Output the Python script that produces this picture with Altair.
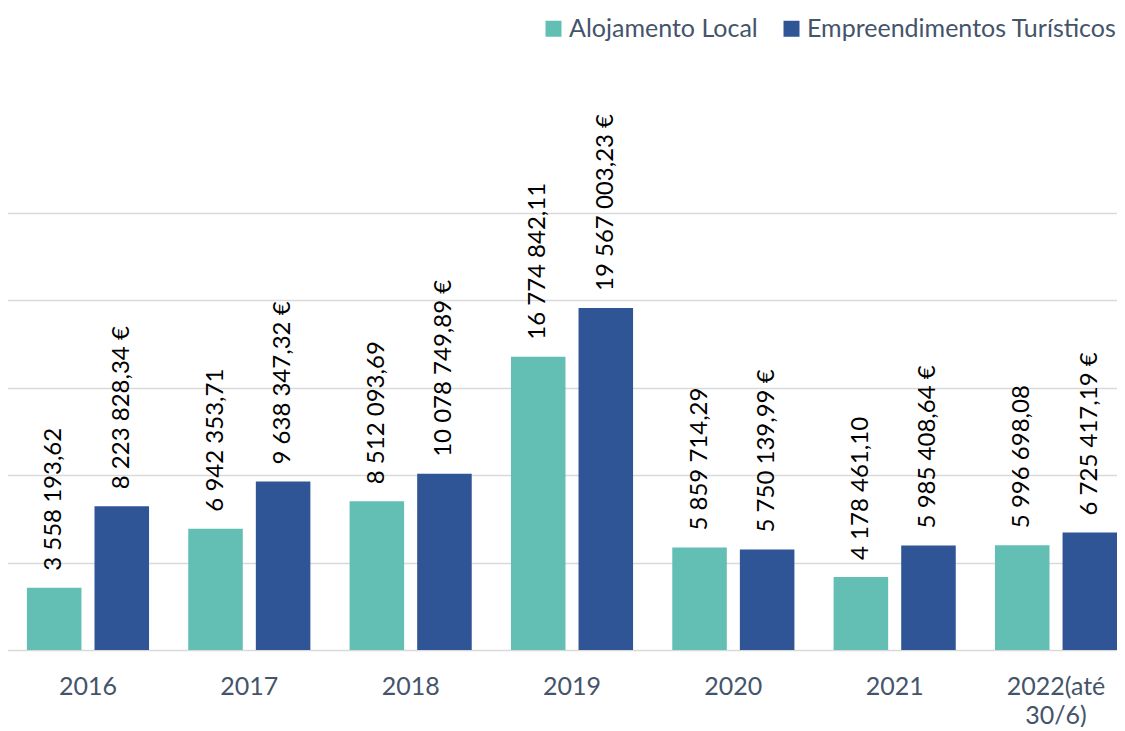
import altair as alt
import pandas as pd

years = ["2016", "2017", "2018", "2019", "2020", "2021", "2022(até 30/6)"]
series = ["Alojamento Local", "Empreendimentos Turísticos"]
alojamento = [3558193.62, 6942353.71, 8512093.69, 16774842.11, 5859714.29, 4178461.10, 5996698.08]
empreend = [8223828.34, 9638347.32, 10078749.89, 19567003.23, 5750139.99, 5985408.64, 6725417.19]
colors = ["#63BFB4", "#2F5597"]


def fmt(v, euro):
    s = f"{v:,.2f}".replace(",", " ").replace(".", ",")
    return s + (" €" if euro else "")


rows = []
for i, y in enumerate(years):
    rows.append({"year": y, "serie": series[0], "value": alojamento[i], "label": fmt(alojamento[i], False)})
    rows.append({"year": y, "serie": series[1], "value": empreend[i], "label": fmt(empreend[i], True)})
df = pd.DataFrame(rows)

FONT = "Lato"
W, H = 1109, 437

x = alt.X("year:N", sort=years, title=None,
          scale=alt.Scale(range=[-0.7, 1128.7], paddingInner=0, paddingOuter=0),
          axis=alt.Axis(labelAngle=0, labelFontSize=25, labelFont=FONT, labelColor="#44546A",
                        ticks=False, domain=False, labelPadding=24, labelLineHeight=29,
                        labelBaseline="top",
                        labelExpr="split(datum.label, ' ')"))
xoff = alt.XOffset("serie:N", sort=series,
                   scale=alt.Scale(paddingInner=0.193, paddingOuter=0.29))
y = alt.Y("value:Q", title=None,
          scale=alt.Scale(domain=[0, 25000000], nice=False),
          axis=alt.Axis(values=[0, 5000000, 10000000, 15000000, 20000000, 25000000],
                        labels=False, ticks=False, domain=False, grid=True,
                        gridColor="#D9D9D9", gridWidth=1.5))
color = alt.Color("serie:N", sort=series, title=None,
                  scale=alt.Scale(domain=series, range=colors),
                  legend=alt.Legend(orient="none", legendX=533, legendY=-197, direction="horizontal",
                                    symbolType="square", symbolSize=256, symbolStrokeWidth=0,
                                    labelFontSize=25, labelFont=FONT, labelColor="#44546A",
                                    labelLimit=0, columnPadding=21, labelOffset=3))

base = alt.Chart(df)
bars = base.mark_bar().encode(x=x, xOffset=xoff, y=y, color=color)
labels = base.mark_text(angle=270, align="left", baseline="middle", dx=17,
                        fontSize=24, font=FONT, color="black").encode(
    x=x, xOffset=xoff, y=y, text="label:N")

chart = alt.layer(bars, labels).properties(
    width=W, height=H,
    autosize=alt.AutoSizeParams(type="none"),
    padding={"left": 0, "top": 205, "right": 0, "bottom": 77},
).configure_view(stroke=None)

chart.save("out.html", embed_options={"renderer": "svg", "actions": False})
